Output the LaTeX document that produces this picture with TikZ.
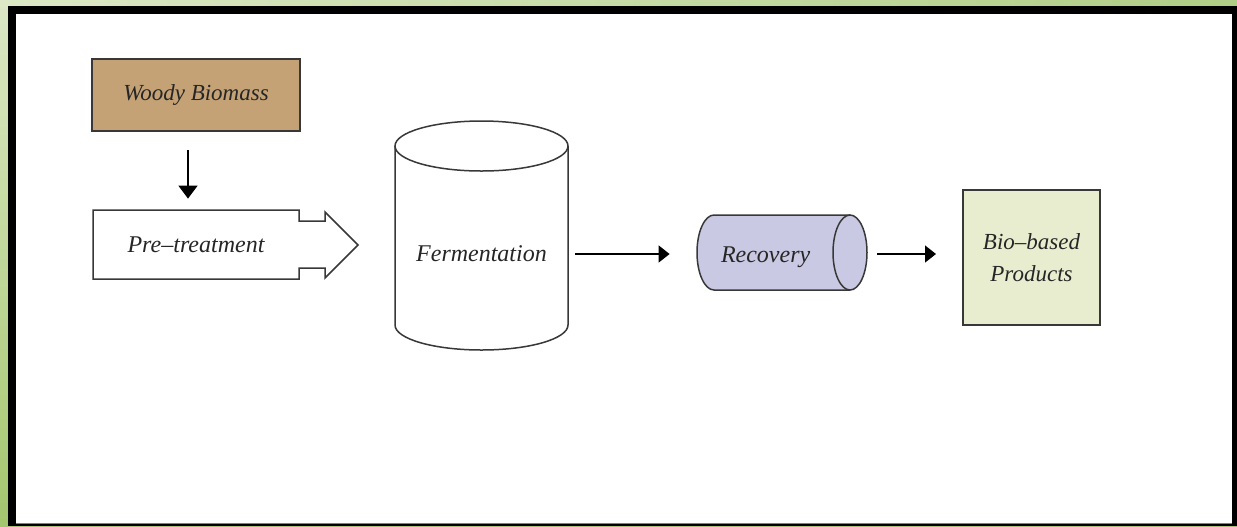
\documentclass[tikz,border=0pt]{standalone}
\usepackage{fontspec}
\setmainfont{Liberation Serif}
\usetikzlibrary{arrows.meta,calc}
\definecolor{tanfill}{HTML}{C4A275}
\definecolor{lavfill}{HTML}{C9C9E3}
\definecolor{palegreen}{HTML}{E8EDCF}
\definecolor{outl}{HTML}{383838}
\definecolor{txt}{HTML}{262626}
\definecolor{bgA}{HTML}{DCE8C6}
\definecolor{bgB}{HTML}{B0CE86}
\definecolor{bgC}{HTML}{A4C66E}
\tikzset{
  boxstyle/.style={draw=outl, line width=1pt, inner sep=0pt, text=txt, font=\fontsize{11.5}{16}\selectfont\itshape, align=center},
  shapeline/.style={draw=outl, line width=0.75pt, line join=miter},
  lbl/.style={inner sep=0pt, text=txt, font=\fontsize{12}{16}\selectfont\itshape},
  flow/.style={line width=0.7pt, -{Triangle[length=5.5pt,width=8.5pt]}},
  downflow/.style={line width=0.7pt, -{Triangle[length=6.5pt,width=9.5pt]}}
}
\begin{document}
\begin{tikzpicture}[x=0.5pt,y=-0.5pt]
\useasboundingbox (0,0) rectangle (1237,526);
% background and frame
\shade[top color=bgA, bottom color=bgC] (0,0) rectangle (1237,526);
\shade[left color=bgA, right color=bgB] (0,0) rectangle (1237,6);
\fill[black] (8,6) rectangle (1237,526);
\fill[white] (16,14) rectangle (1232,523);
\draw[gray, line width=0.5pt] (16,523) -- (1232,523);

% Woody Biomass
\node[boxstyle, fill=tanfill, minimum width=104pt, minimum height=36pt] (woody) at (196,95) {Woody Biomass};

% Pre-treatment block arrow
\draw[shapeline, fill=white] (93,210) -- (299,210) -- (299,221) -- (325,221) -- (325,212)
  -- (358,245) -- (325,278) -- (325,268) -- (299,268) -- (299,279) -- (93,279) -- cycle;
\node[lbl, minimum width=103pt, minimum height=34.5pt] (pre) at (196,244.5) {Pre--treatment};

\draw[downflow] ($(woody.south)+(-8,18)$) -- ($(pre.north)+(-8,-11)$);

% Fermentation cylinder
\draw[shapeline, fill=white] (395,146) -- (395,325) arc[start angle=180, end angle=0, x radius=86.5, y radius=25] -- (568,146);
\draw[shapeline] (481.5,146) ellipse [x radius=86.5, y radius=25];
\node[lbl, minimum width=86.5pt, minimum height=20pt] (ferm) at (481.5,254) {Fermentation};

% Recovery cylinder
\fill[lavfill] (714,215) -- (850,215) arc[start angle=270, end angle=450, x radius=17, y radius=37.5]
  -- (714,290) arc[start angle=90, end angle=270, x radius=17, y radius=37.5] -- cycle;
\draw[shapeline] (850,215) -- (714,215) arc[start angle=270, end angle=90, x radius=17, y radius=37.5] -- (850,290);
\draw[shapeline] (850,252.5) ellipse [x radius=17, y radius=37.5];
\node[lbl, minimum width=85pt, minimum height=37.5pt, text width=65pt, align=left, yshift=-2.5pt] (rec) at (782,252.5) {\hspace*{2pt}Recovery};

% Bio-based products
\node[boxstyle, fill=palegreen, minimum width=68.5pt, minimum height=67.5pt] (bio) at (1031.5,257.5) {Bio--based\\Products};

% connectors
\draw[flow, shorten <=3.5pt, shorten >=13.5pt] (ferm.east) -- (ferm.east -| rec.west);
\draw[flow, shorten <=5pt, shorten >=13pt] (rec.east |- 0,254) -- (bio.west |- 0,254);
\end{tikzpicture}
\end{document}
